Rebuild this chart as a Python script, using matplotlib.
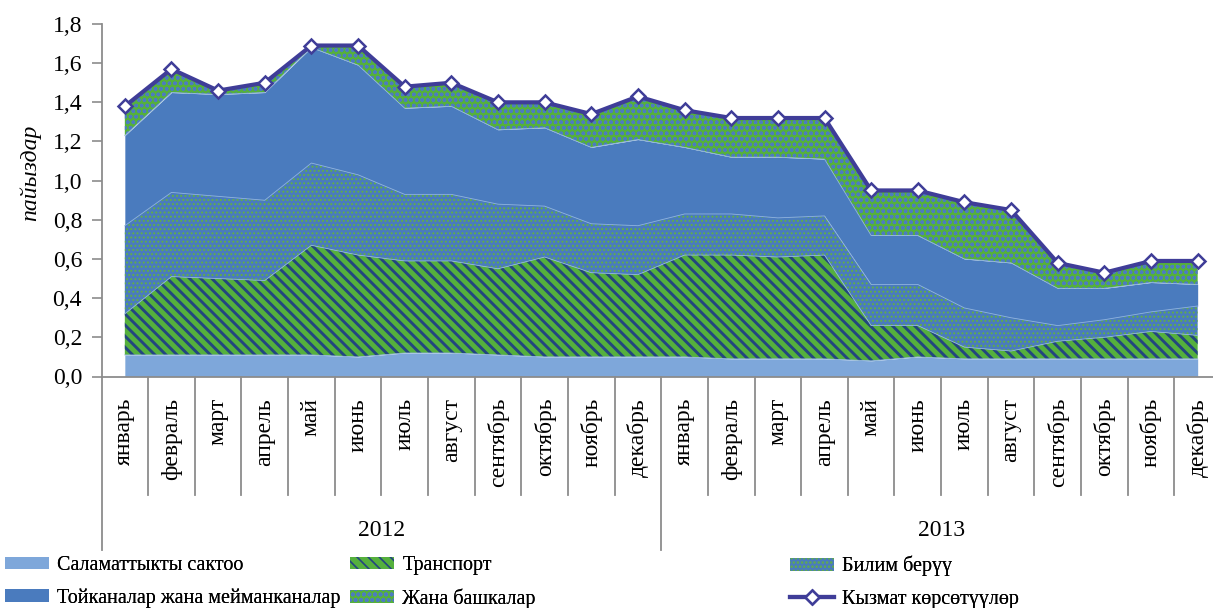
import numpy as np
import matplotlib
matplotlib.use("Agg")
import matplotlib.pyplot as plt
from matplotlib.patches import Patch
from matplotlib.lines import Line2D

plt.rcParams['font.family'] = ['Liberation Serif', 'DejaVu Serif']
plt.rcParams['hatch.linewidth'] = 1.2

# ---------------- data ----------------
months = ["январь", "февраль", "март", "апрель", "май", "июнь", "июль", "август",
          "сентябрь", "октябрь", "ноябрь", "декабрь"]
years = ["2012", "2013"]
categories = months * 2

health = [0.11, 0.11, 0.11, 0.11, 0.11, 0.10, 0.12, 0.12, 0.11, 0.10, 0.10, 0.10,
          0.10, 0.09, 0.09, 0.09, 0.08, 0.10, 0.09, 0.09, 0.09, 0.09, 0.09, 0.09]
transport = [0.21, 0.40, 0.39, 0.38, 0.56, 0.52, 0.47, 0.47, 0.44, 0.51, 0.43, 0.42,
             0.52, 0.53, 0.52, 0.53, 0.18, 0.16, 0.06, 0.04, 0.09, 0.11, 0.14, 0.12]
education = [0.45, 0.43, 0.42, 0.41, 0.42, 0.41, 0.34, 0.34, 0.33, 0.26, 0.25, 0.25,
             0.21, 0.21, 0.20, 0.20, 0.21, 0.21, 0.20, 0.17, 0.08, 0.09, 0.10, 0.15]
hotels = [0.46, 0.51, 0.52, 0.55, 0.59, 0.56, 0.44, 0.45, 0.38, 0.40, 0.39, 0.44,
          0.34, 0.29, 0.31, 0.29, 0.25, 0.25, 0.25, 0.28, 0.19, 0.16, 0.15, 0.11]
others = [0.15, 0.12, 0.02, 0.05, 0.01, 0.10, 0.11, 0.12, 0.14, 0.13, 0.17, 0.22,
          0.19, 0.20, 0.20, 0.21, 0.23, 0.23, 0.29, 0.27, 0.13, 0.08, 0.11, 0.12]
services = [1.38, 1.57, 1.46, 1.50, 1.69, 1.69, 1.48, 1.50, 1.40, 1.40, 1.34, 1.43,
            1.36, 1.32, 1.32, 1.32, 0.95, 0.95, 0.89, 0.85, 0.58, 0.53, 0.59, 0.59]

labels = ["Саламаттыкты сактоо", "Транспорт", "Билим берүү",
          "Тойканалар жана мейманканалар", "Жана башкалар", "Кызмат көрсөтүүлөр"]
yticks = [0.0, 0.2, 0.4, 0.6, 0.8, 1.0, 1.2, 1.4, 1.6, 1.8]

# ---------------- styles ----------------
LBLUE = '#7EA7DA'
BLUE = '#4A7BBE'
GREEN = '#55B03D'
NAVY = '#23467F'
LINE = '#3F3D98'
GRAY = '#8C8C8C'

layer_styles = [
    dict(facecolor=LBLUE, hatch=None, edgecolor=LBLUE, hlw=1.0),
    dict(facecolor=GREEN, hatch='\\\\\\', edgecolor=NAVY, hlw=2.1),
    dict(facecolor=BLUE, hatch='....', edgecolor='#62B044', hlw=0.9),
    dict(facecolor=BLUE, hatch=None, edgecolor=BLUE, hlw=1.0),
    dict(facecolor=GREEN, hatch='ooo', edgecolor='#4D7CC0', hlw=1.0),
]


def styled(artist, st):
    if hasattr(artist, 'set_hatch_linewidth'):
        artist.set_hatch_linewidth(st['hlw'])
    return artist


W, H = 1213, 608
fig = plt.figure(figsize=(W / 100, H / 100), dpi=100)
x_left, x_right, y_top, y_bot = 101.5, 1221.0, 24.0, 376.5
ax = fig.add_axes([x_left / W, 1 - y_bot / H, (x_right - x_left) / W, (y_bot - y_top) / H])

x = np.arange(len(categories))
layers = [health, transport, education, hotels, others]
base = np.zeros(len(x))
for vals, st in zip(layers, layer_styles):
    top = base + np.array(vals)
    with plt.rc_context({'hatch.linewidth': st['hlw']}):
        pc = ax.fill_between(x, base, top, facecolor=st['facecolor'], hatch=st['hatch'],
                             edgecolor=st['edgecolor'], linewidth=0, zorder=2)
    styled(pc, st)
    ax.plot(x, top, color='#8FB3DE', lw=0.6, zorder=2.5)
    base = top

ax.plot(x, services, color=LINE, lw=3.0, marker='D', markersize=7,
        markerfacecolor='white', markeredgecolor=LINE, markeredgewidth=1.8, zorder=4,
        clip_on=False)

ax.set_xlim(-0.5, len(x) - 0.5)
ax.set_ylim(0, 1.8)
ax.set_yticks(yticks)
ax.set_yticklabels([f"{v:.1f}".replace('.', ',') for v in yticks], fontsize=17)
ax.tick_params(axis='y', direction='out', length=7, width=1.2, color=GRAY, pad=7)
ax.set_xticks([])
for s in ['top', 'right']:
    ax.spines[s].set_visible(False)
for s in ['left', 'bottom']:
    ax.spines[s].set_color(GRAY)
    ax.spines[s].set_linewidth(1.3)

# hierarchical x axis
axh = y_bot - y_top
tr = ax.get_xaxis_transform()
lab_top = -(398 - y_bot) / axh
sep_m = -(495 - y_bot) / axh
sep_y = -(550 - y_bot) / axh
year_y = -(530 - y_bot) / axh
for i, m in enumerate(categories):
    ax.text(i, lab_top, m, rotation=90, ha='center', va='top', fontsize=17,
            transform=tr)
for b in range(len(x) + 1):
    xb = b - 0.5
    ybot = sep_y if b % 12 == 0 else sep_m
    ax.add_line(Line2D([xb, xb], [0, ybot], transform=tr, color=GRAY, lw=1.3,
                       clip_on=False))
for k, yr in enumerate(years):
    ax.text(k * 12 + 5.5, year_y, yr, ha='center', va='center', fontsize=17,
            transform=tr)

fig.text(30 / W, 1 - 173 / H, "пайыздар", rotation=90, style='italic', fontsize=17,
         ha='center', va='center')

# legend (three columns placed like the reference)
handles = []
for st in layer_styles:
    with plt.rc_context({'hatch.linewidth': st['hlw']}):
        p = Patch(facecolor=st['facecolor'], hatch=st['hatch'], edgecolor=st['edgecolor'],
                  linewidth=0)
    handles.append(styled(p, st))
handles.append(Line2D([], [], color=LINE, lw=3.0, marker='D', markersize=7,
                      markerfacecolor='white', markeredgecolor=LINE, markeredgewidth=1.8))
cols = [(0, 3, 5), (1, 4, 350), (2, 5, 790)]
for a, b, px in cols:
    lg = fig.legend([handles[a], handles[b]], [labels[a], labels[b]],
                    loc='upper left', bbox_to_anchor=(px / W, 1 - 556 / H),
                    frameon=False, fontsize=14.5, borderpad=0, borderaxespad=0,
                    handlelength=2.2, handleheight=0.6, handletextpad=0.4,
                    labelspacing=0.65)
    fig.add_artist(lg)

fig.savefig('out.png', dpi=100)
